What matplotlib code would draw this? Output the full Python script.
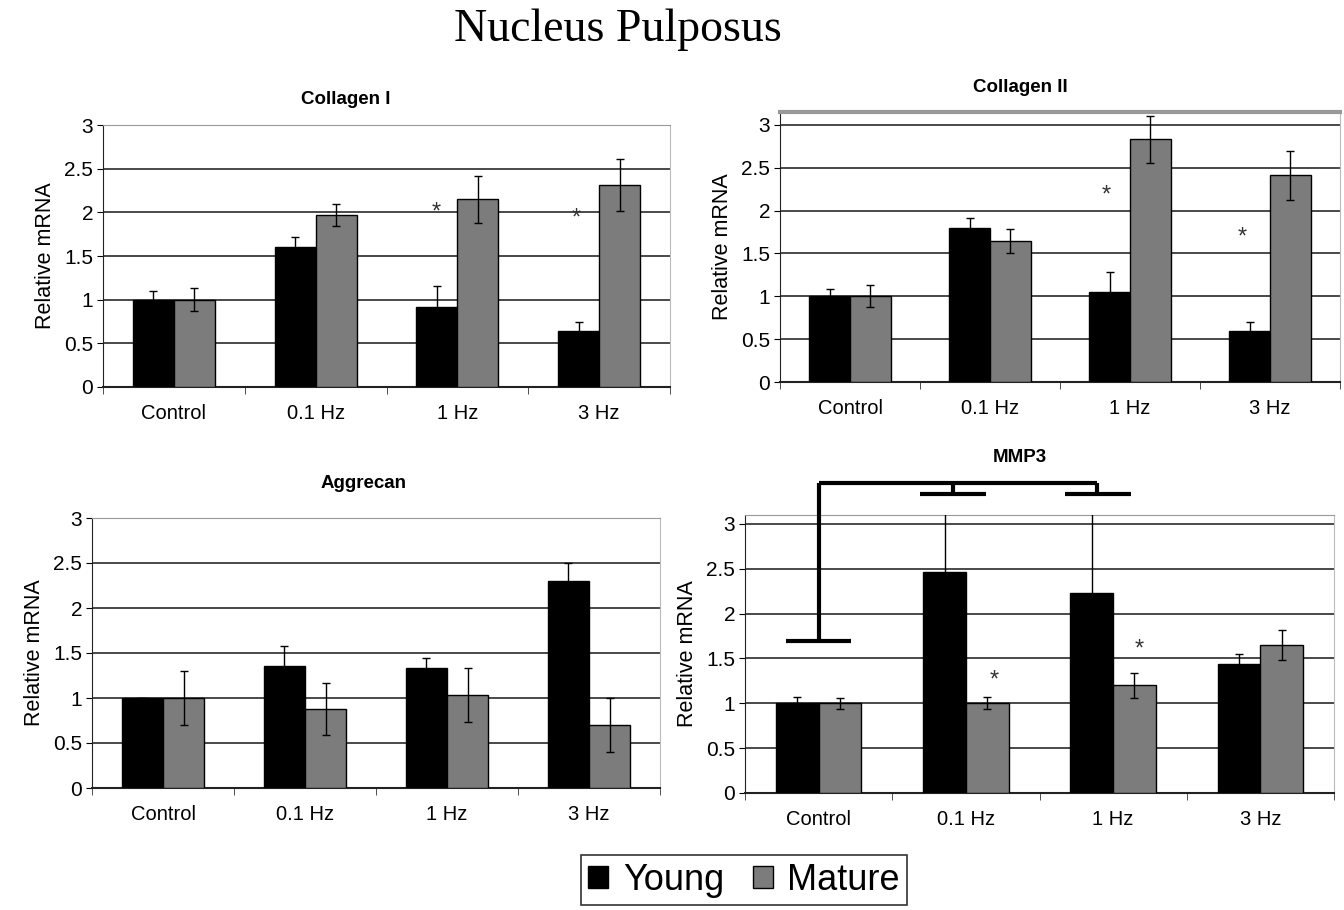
import matplotlib
matplotlib.use("Agg")
import matplotlib.pyplot as plt
import numpy as np

categories = ["Control", "0.1 Hz", "1 Hz", "3 Hz"]

col1_young = [1.0, 1.60, 0.92, 0.64]
col1_young_err = [0.10, 0.12, 0.24, 0.11]
col1_mature = [1.0, 1.97, 2.15, 2.31]
col1_mature_err = [0.13, 0.13, 0.27, 0.30]

col2_young = [1.0, 1.80, 1.05, 0.60]
col2_young_err = [0.08, 0.11, 0.23, 0.10]
col2_mature = [1.0, 1.65, 2.83, 2.41]
col2_mature_err = [0.13, 0.14, 0.27, 0.29]

agg_young = [1.0, 1.36, 1.33, 2.30]
agg_young_err = [0.0, 0.22, 0.11, 0.20]
agg_mature = [1.0, 0.88, 1.03, 0.70]
agg_mature_err = [0.30, 0.29, 0.30, 0.30]

mmp_young = [1.0, 2.46, 2.23, 1.44]
mmp_young_err = [0.07, 0.66, 0.92, 0.11]
mmp_mature = [1.0, 1.0, 1.20, 1.65]
mmp_mature_err = [0.06, 0.065, 0.14, 0.17]

# asterisk positions (category position, y value)
col1_stars = [(1.85, 2.0), (2.84, 1.93)]
col2_stars = [(1.83, 2.18), (2.80, 1.68)]
mmp_stars = [(1.19, 1.25), (2.18, 1.60)]

plt.rcParams['font.family'] = ['Liberation Sans', 'DejaVu Sans']

fig = plt.figure(figsize=(13.44, 9.10), dpi=100)

YOUNG = "#000000"
MATURE = "#7c7c7c"
W = 0.29

def panel(rect, title, yv, ye, mv, me, ytop, stars, title_xy):
    ax = fig.add_axes(rect)
    x = np.arange(len(categories))
    ax.bar(x - W/2, yv, W, color=YOUNG, edgecolor="black", linewidth=1, zorder=3, label="Young")
    ax.bar(x + W/2, mv, W, color=MATURE, edgecolor="black", linewidth=1, zorder=3, label="Mature")
    ax.errorbar(x - W/2, yv, yerr=ye, fmt="none", ecolor="black", elinewidth=1, capsize=3, zorder=4)
    ax.errorbar(x + W/2, mv, yerr=me, fmt="none", ecolor="black", elinewidth=1, capsize=3, zorder=4)
    for sx, sy in stars:
        ax.text(sx, sy, "*", ha="center", va="center", fontsize=17, color="#333333", zorder=5)
    ax.set_xlim(-0.5, 3.5)
    ax.set_ylim(0, ytop)
    ax.set_yticks([0, 0.5, 1, 1.5, 2, 2.5, 3])
    ax.set_yticklabels(["0", "0.5", "1", "1.5", "2", "2.5", "3"])
    ax.yaxis.grid(True, color="#2a2a2a", linewidth=1.2, zorder=0)
    ax.set_axisbelow(True)
    ax.set_xticks(x)
    ax.set_xticklabels(categories)
    ax.tick_params(axis="x", length=0, pad=12, labelsize=14.5)
    ax.set_xticks([-0.5, 0.5, 1.5, 2.5, 3.5], minor=True)
    ax.tick_params(axis="x", which="minor", length=5, direction="out", color="#333333")
    ax.tick_params(axis="y", length=4, direction="out", labelsize=15, pad=3)
    ax.set_ylabel("Relative mRNA", fontsize=15.5, labelpad=6)
    ax.spines["left"].set_color("#222222")
    ax.spines["bottom"].set_color("#222222")
    ax.spines["bottom"].set_linewidth(1.5)
    ax.spines["top"].set_color("#999999")
    ax.spines["right"].set_color("#bbbbbb")
    ax.spines["right"].set_linewidth(0.8)
    fig.text(title_xy[0] / 1344, 1 - title_xy[1] / 910, title, ha="center", va="center",
             fontsize=13.5, fontweight="bold")
    return ax

ax1 = panel([103/1344, 1 - 387/910, 567/1344, 262/910], "Collagen I",
            col1_young, col1_young_err, col1_mature, col1_mature_err, 3.0, col1_stars, (346, 100))
ax2 = panel([780/1344, 1 - 382/910, 560/1344, 270/910], "Collagen II",
            col2_young, col2_young_err, col2_mature, col2_mature_err, 3.15, col2_stars, (1020, 88))
ax2.spines["top"].set_linewidth(3)
ax3 = panel([92/1344, 1 - 788/910, 568/1344, 270/910], "Aggrecan",
            agg_young, agg_young_err, agg_mature, agg_mature_err, 3.0, [], (364, 484))
ax4 = panel([745/1344, 1 - 793/910, 589/1344, 278/910], "MMP3",
            mmp_young, mmp_young_err, mmp_mature, mmp_mature_err, 3.1, mmp_stars, (1020, 457))

# significance bracket on MMP3
bk = dict(color="black", linewidth=3, clip_on=False, solid_capstyle="butt", zorder=6)
ax4.plot([-0.22, 0.22], [1.70, 1.70], **bk)
ax4.plot([0.0, 0.0], [1.70, 3.46], **bk)
ax4.plot([0.0, 1.89], [3.46, 3.46], **bk)
ax4.plot([0.91, 0.91], [3.46, 3.33], **bk)
ax4.plot([1.89, 1.89], [3.46, 3.33], **bk)
ax4.plot([0.69, 1.14], [3.33, 3.33], **bk)
ax4.plot([1.67, 2.12], [3.33, 3.33], **bk)

fig.text(618/1344, 1 - 30/910, "Nucleus Pulposus", ha="center", va="center",
         fontsize=33, family=["Liberation Serif", "DejaVu Serif"])

handles, labels = ax1.get_legend_handles_labels()
leg = fig.legend(handles, labels, loc="center", bbox_to_anchor=(744/1344, 1 - 880/910),
                 ncol=2, fontsize=26, frameon=True, fancybox=False, edgecolor="black",
                 handlelength=0.55, handleheight=0.55, handletextpad=0.4, columnspacing=0.8,
                 borderpad=0.2)
leg.get_frame().set_linewidth(1.2)

fig.savefig("out.png", dpi=100, facecolor="white")
